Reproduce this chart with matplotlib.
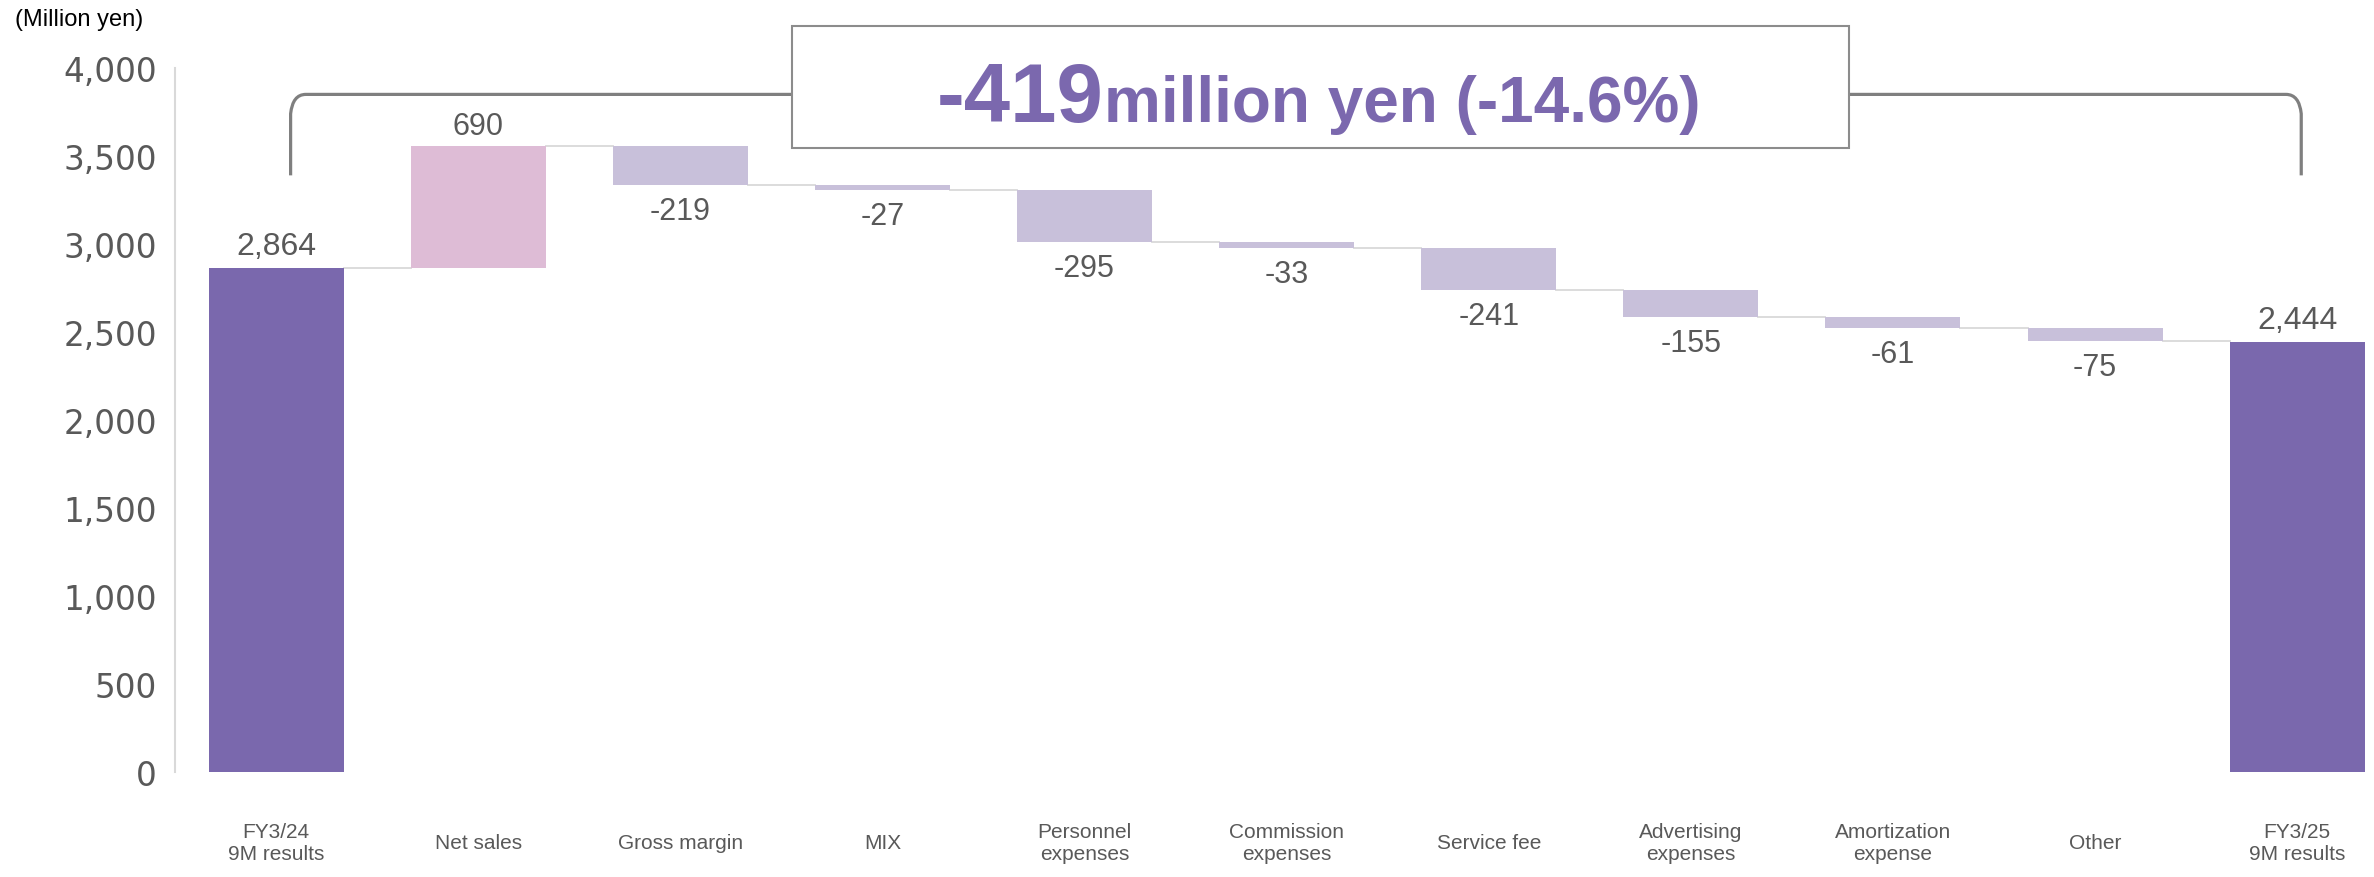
import matplotlib
matplotlib.use("Agg")
import numpy as np
from matplotlib import pyplot as plt
from matplotlib.path import Path
from matplotlib.patches import PathPatch, Rectangle

categories = ["FY3/24\n9M results", "Net sales", "Gross margin", "MIX",
              "Personnel\nexpenses", "Commission\nexpenses", "Service fee",
              "Advertising\nexpenses", "Amortization\nexpense", "Other",
              "FY3/25\n9M results"]
start_value = 2864
deltas = [690, -219, -27, -295, -33, -241, -155, -61, -75]
end_value = 2444
yticks = [0, 500, 1000, 1500, 2000, 2500, 3000, 3500, 4000]

DARK = "#7A68AD"
PINK = "#DEBCD6"
LAV = "#C8C0DA"
GREY = "#595959"

fig = plt.figure(figsize=(23.74, 8.78), dpi=100)
ax = fig.add_axes([175 / 2374, 105 / 878, 1 - 175 / 2374, 704 / 878])

width = 0.668
x = np.arange(len(categories))

# totals
ax.bar([0, 10], [start_value, end_value], width=width, color=DARK, zorder=2)
ax.annotate(f"{start_value:,}", (0, start_value), xytext=(0, 5), textcoords="offset points",
            ha="center", va="bottom", fontsize=23, color=GREY, family="Liberation Sans")
ax.annotate(f"{end_value:,}", (10, end_value), xytext=(0, 5), textcoords="offset points",
            ha="center", va="bottom", fontsize=23, color=GREY, family="Liberation Sans")

# deltas
level = start_value
levels = [level]
for i, d in enumerate(deltas):
    xi = i + 1
    bottom = level if d > 0 else level + d
    ax.bar(xi, abs(d), bottom=bottom, width=width, color=PINK if d > 0 else LAV, zorder=2)
    if d > 0:
        ax.annotate(f"{d:,}", (xi, level + d), xytext=(0, 4), textcoords="offset points",
                    ha="center", va="bottom", fontsize=22, color=GREY, family="Liberation Sans")
    else:
        ax.annotate(f"{d:,}", (xi, level + d), xytext=(0, -8), textcoords="offset points",
                    ha="center", va="top", fontsize=22, color=GREY, family="Liberation Sans")
    level += d
    levels.append(level)

# connector lines
for i in range(len(categories) - 1):
    lv = levels[i] if i < len(levels) else levels[-1]
    ax.plot([i + width / 2, i + 1 - width / 2], [lv, lv], color="#D9D9D9", lw=1.3, zorder=1)

# category labels
for xi, lab in zip(x, categories):
    ax.text(xi, -0.1, lab, transform=ax.get_xaxis_transform(), ha="center", va="center",
            fontsize=15, color=GREY, family="Liberation Sans", linespacing=1.15)

ax.set_xlim(-0.5, 10.38)
ax.set_ylim(0, 4000)
ax.set_xticks([])
ax.set_yticks(yticks)
ax.set_yticklabels([f"{v:,}" for v in yticks], fontsize=23.5, color=GREY, family="DejaVu Sans")
ax.tick_params(axis="y", length=0, pad=13)
for s in ["top", "right", "bottom"]:
    ax.spines[s].set_visible(False)
ax.spines["left"].set_color("#D9D9D9")
ax.spines["left"].set_linewidth(1.5)

# bracket
x0, x1 = 0.072, 10.02
ylo, ytop = 3390, 3850
rx, ry = 0.075, 110
verts = [(x0, ylo), (x0, ytop - ry), (x0 + 0.01, ytop), (x0 + rx, ytop),
         (x1 - rx, ytop), (x1 - 0.01, ytop), (x1, ytop - ry), (x1, ylo)]
codes = [Path.MOVETO, Path.LINETO, Path.CURVE3, Path.CURVE3,
         Path.LINETO, Path.CURVE3, Path.CURVE3, Path.LINETO]
ax.add_patch(PathPatch(Path(verts, codes), fill=False, edgecolor="#7F7F7F", lw=2.3,
                       clip_on=False, zorder=3))

# callout box
box = Rectangle((792 / 2374, 1 - 149 / 878), 1057 / 2374, 122 / 878, transform=fig.transFigure,
                facecolor="white", edgecolor="#8C8C8C", lw=1.5, clip_on=False, zorder=4)
ax.add_patch(box)
xs = 1104 / 2374
yb = 1 - 122 / 878
ax.text(xs, yb, "-419", transform=fig.transFigure, ha="right", va="baseline", fontsize=60,
        fontweight="bold", color="#7B68AE", family="Liberation Sans", zorder=5)
ax.text(xs, yb, "million yen (-14.6%)", transform=fig.transFigure, ha="left", va="baseline",
        fontsize=46, fontweight="bold", color="#7B68AE", family="Liberation Sans", zorder=5)

fig.text(15 / 2374, 1 - 20 / 878, "(Million yen)", ha="left", va="center", fontsize=17,
         color="black", family="Liberation Sans")

fig.savefig("out.png", dpi=100)
